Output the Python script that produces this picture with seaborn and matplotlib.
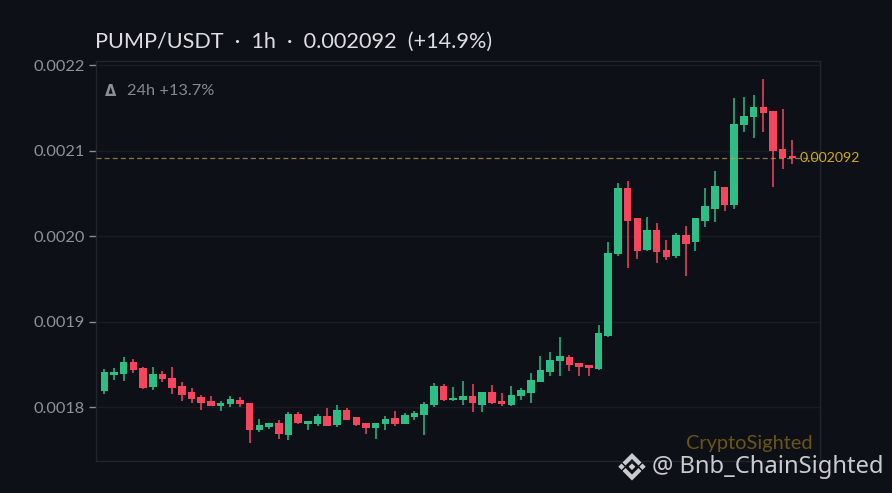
import pandas as pd
import matplotlib
matplotlib.use("Agg")
import matplotlib.pyplot as plt
from matplotlib.patches import Polygon
import seaborn as sns

# prices, in millionths of USDT
opens = [1819,1838,1839,1853,1846,1824,1839,1834,1825,1818,1812,1808,1802,1804,1809,1805,1774,1777,
         1782,1768,1792,1781,1781,1790,1780,1797,1789,1782,1776,1781,1788,1781,1789,1791,1803,1825,
         1809,1809,1813,1803,1818,1808,1803,1813,1817,1830,1841,1854,1859,1852,1850,1845,1884,1979,
         2056,2021,1984,2007,1984,1977,2001,1993,2018,2032,2058,2036,2130,2139,2151,2146,2102,2094]
highs = [1845,1846,1859,1857,1847,1847,1843,1847,1830,1823,1815,1813,1808,1813,1812,1805,1787,1782,
         1785,1795,1795,1784,1792,1799,1803,1799,1789,1782,1782,1790,1796,1794,1796,1806,1829,1827,
         1824,1831,1827,1818,1826,1817,1825,1823,1840,1860,1865,1882,1861,1852,1850,1896,1993,2062,
         2064,2021,2022,2015,1996,2004,2012,2021,2056,2076,2058,2162,2163,2165,2184,2146,2149,2113]
lows = [1816,1832,1831,1840,1822,1820,1830,1816,1808,1805,1797,1802,1796,1801,1801,1759,1771,1775,
        1763,1762,1781,1774,1778,1778,1777,1785,1778,1769,1763,1774,1778,1781,1785,1768,1801,1808,
        1808,1803,1795,1795,1804,1802,1802,1809,1805,1830,1837,1837,1843,1837,1837,1844,1882,1977,
        1963,1973,1983,1969,1972,1975,1954,1983,2011,2017,2029,2032,2122,2115,2122,2058,2079,2084]
closes = [1841,1841,1853,1844,1823,1839,1833,1823,1815,1810,1805,1802,1805,1810,1804,1774,1780,1782,
          1769,1792,1782,1784,1790,1778,1797,1785,1780,1776,1782,1787,1781,1791,1794,1804,1825,1809,
          1811,1813,1805,1818,1805,1804,1815,1820,1832,1844,1855,1860,1850,1847,1846,1887,1981,2056,
          2018,1983,2007,1982,1976,2002,1991,2021,2035,2059,2037,2131,2141,2151,2144,2100,2092,2092]
y_ticks = [0.0018, 0.0019, 0.0020, 0.0021, 0.0022]
last_price = 0.002092

BG = "#0d1117"
GREEN = "#2ebd85"
RED = "#f6465d"

df = pd.DataFrame({"open": opens, "high": highs, "low": lows, "close": closes}) / 1e6
df["i"] = range(len(df))
df["bottom"] = df[["open", "close"]].min(axis=1)
df["body"] = (df["close"] - df["open"]).abs()
df["up"] = df["close"] >= df["open"]

sns.set_theme(style="dark", rc={"axes.facecolor": BG, "figure.facecolor": BG})
plt.rcParams["font.family"] = ["Lato", "DejaVu Sans"]

fig = plt.figure(figsize=(8.92, 4.93), dpi=100)
ax = fig.add_axes([95.5 / 892, 1 - 461 / 493, 725 / 892, 400.5 / 493])

# wicks first, then the bodies on top
ax.vlines(df["i"], df["low"], df["high"], colors=[GREEN if u else RED for u in df["up"]],
          linewidth=1.1, zorder=3)
for is_up, color in [(True, GREEN), (False, RED)]:
    part = df[df["up"] == is_up]
    sns.barplot(data=part, x="i", y="body", bottom=part["bottom"], native_scale=True,
                color=color, saturation=1, width=0.78, errorbar=None, ax=ax,
                linewidth=0, zorder=4)

ax.set_xlim(-0.91, 73.9)
ax.set_ylim(0.0017375, 0.0022053)
ax.set_xlabel("")
ax.set_ylabel("")
ax.set_xticks([])
ax.set_yticks(y_ticks)
ax.set_yticklabels([f"{v:.4f}" for v in y_ticks])
ax.tick_params(axis="y", length=5, width=1, color="#8b8f96", labelcolor="#8f9398",
               labelsize=11.8, pad=3, left=True)
ax.grid(axis="y", color="#191d23", linewidth=1)
ax.set_axisbelow(True)
for s in ax.spines.values():
    s.set_color("#21262d")
    s.set_linewidth(1)

ax.axhline(last_price, color="#c9a24a", linewidth=0.9, dashes=(4, 2.5), alpha=0.7, zorder=5)
ax.text(71.75, last_price, "0.002092", color="#d6a912", fontsize=10.2, va="center", ha="left",
        clip_on=False, zorder=6)

fig.text(95 / 892, 1 - 41.5 / 493, "PUMP/USDT  ·  1h  ·  0.002092  (+14.9%)", color="#dcdee1",
         fontsize=15.6, va="center", ha="left")
fig.text(111 / 892, 1 - 91 / 493, "Δ", color="#8b8f96", fontsize=10.5, fontweight="bold",
         family="DejaVu Sans", va="center", ha="center")
fig.text(127 / 892, 1 - 91 / 493, "24h +13.7%", color="#85898f", fontsize=11.8, va="center", ha="left")

# watermarks
fig.text(813 / 892, 1 - 443.5 / 493, "CryptoSighted", color="#6b5514", fontsize=14.4,
         va="center", ha="right")
fig.text(652 / 892, 1 - 467 / 493, "@ Bnb_ChainSighted", color="#c9cbce", fontsize=17.1,
         family="Noto Sans", va="center", ha="left")

# little Binance mark, in pixels
def diamond(cx, cy, r):
    return [(cx - r, cy), (cx, cy - r), (cx + r, cy), (cx, cy + r)]

def chevron(cx, base, r, t, s):
    # s = -1 points up, s = 1 points down
    return [(cx - r, base), (cx, base + s * r), (cx + r, base), (cx + r - t, base - s * t),
            (cx, base + s * (r - 2 * t)), (cx - r + t, base - s * t)]

logo = [diamond(632, 466.7, 3.4), diamond(621.5, 466.7, 3.2), diamond(642.5, 466.7, 3.2),
        chevron(632, 462.5, 9.5, 3, -1), chevron(632, 471, 9.5, 3, 1)]
for pts in logo:
    fig.add_artist(Polygon([(x / 892, 1 - y / 493) for x, y in pts], closed=True,
                           transform=fig.transFigure, facecolor="#c9cbce", edgecolor="none"))

fig.savefig("out.png", dpi=100, facecolor=BG)
